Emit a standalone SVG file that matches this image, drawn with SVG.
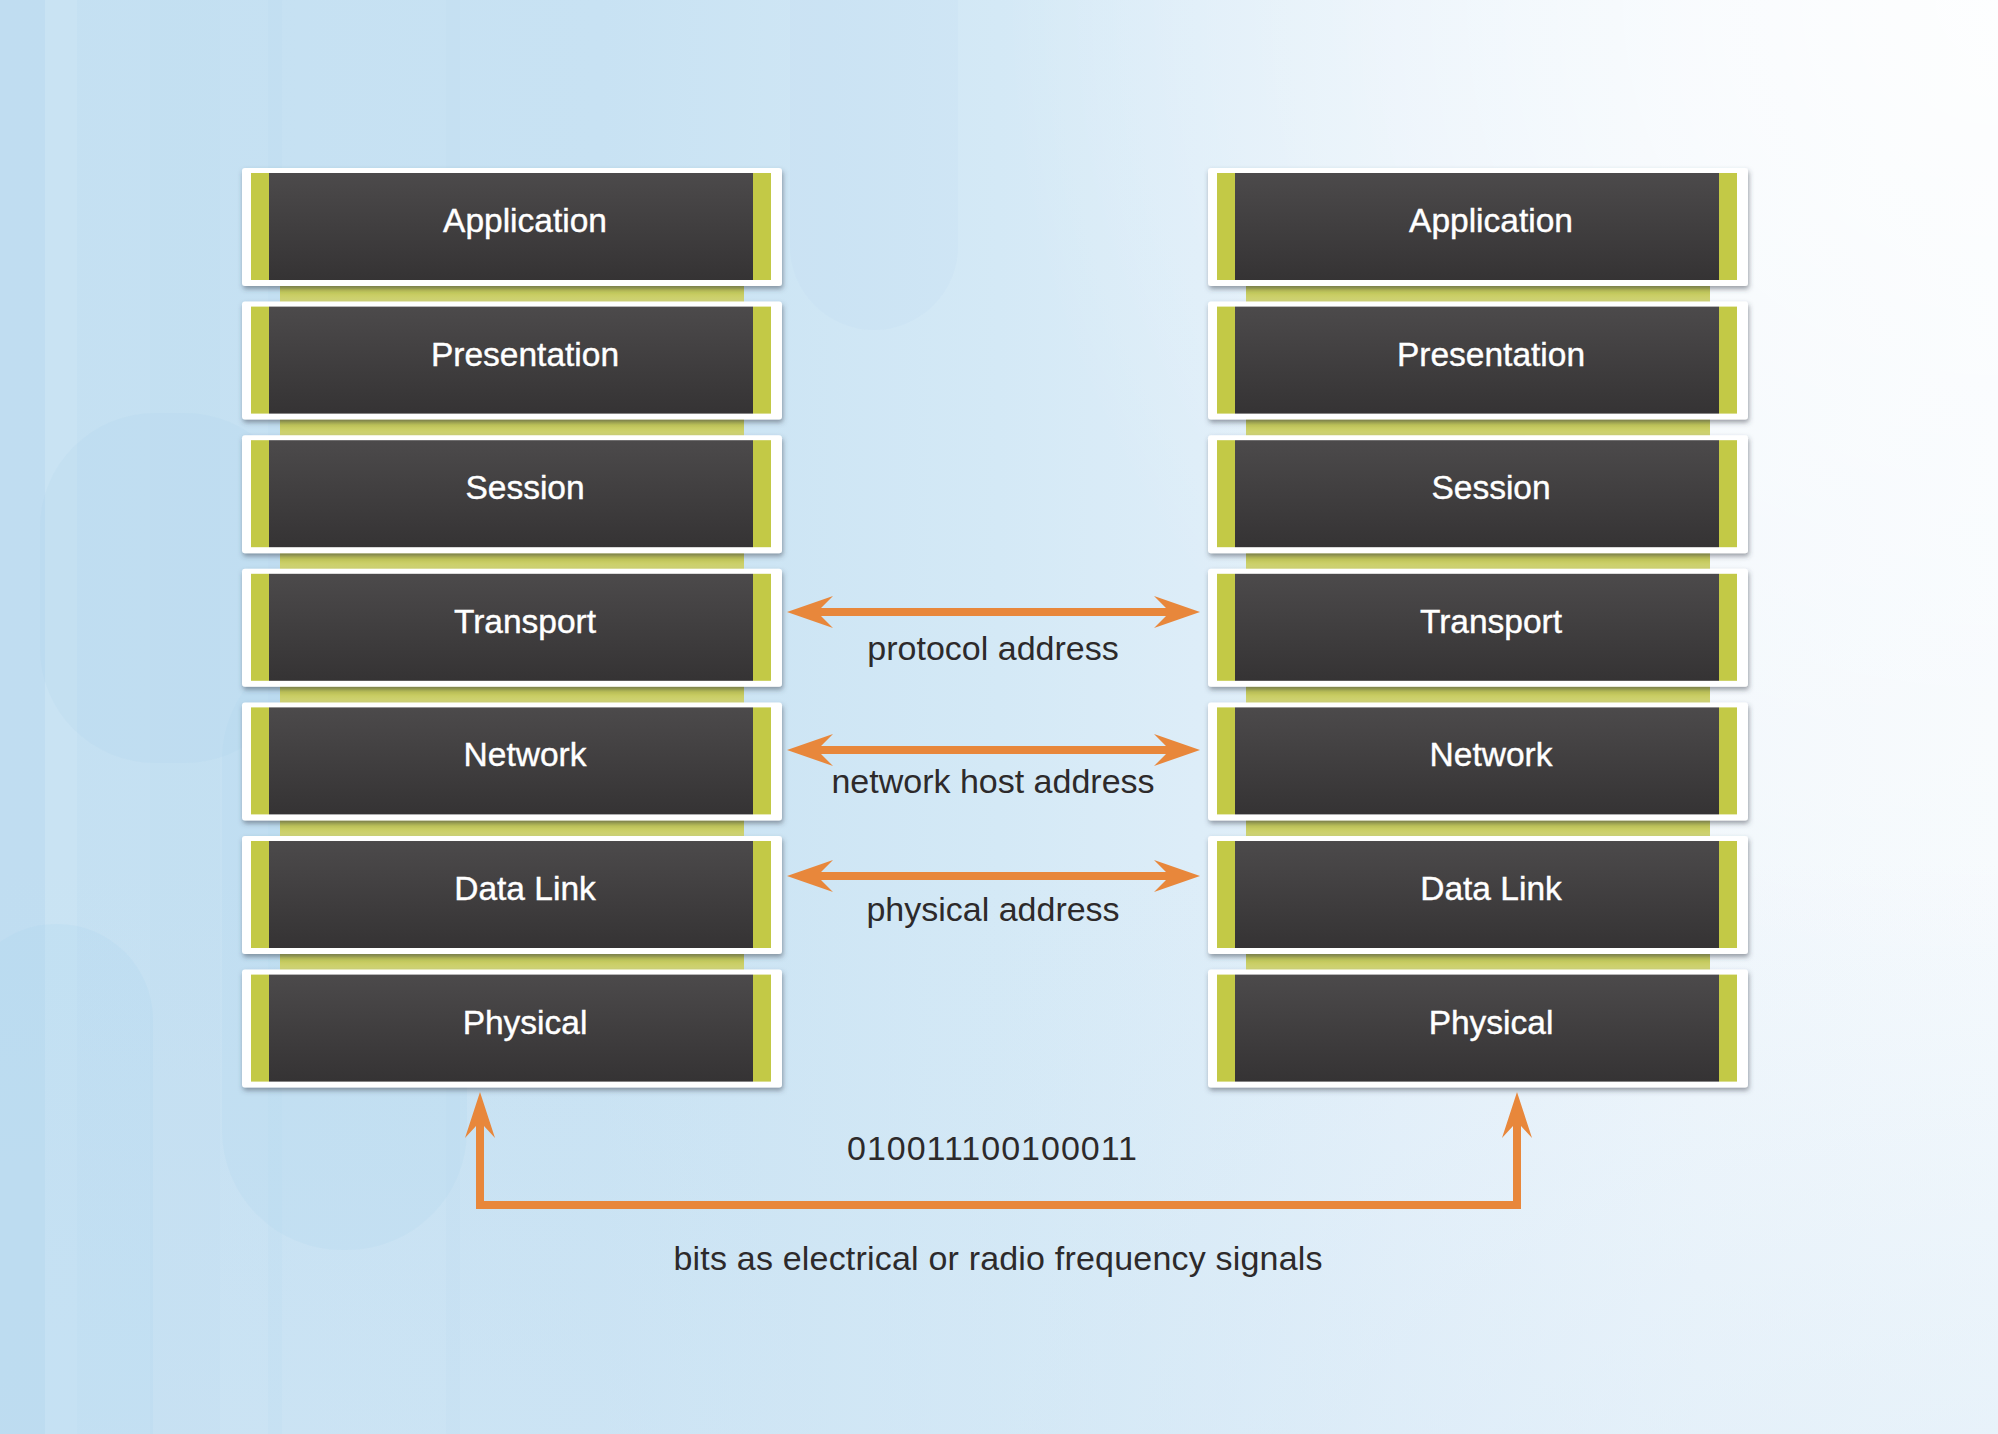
<svg xmlns="http://www.w3.org/2000/svg" width="1998" height="1434" viewBox="0 0 1998 1434">
<defs>
<linearGradient id="bg" x1="0" y1="0" x2="1" y2="0">
<stop offset="0" stop-color="#c4e0f2"/>
<stop offset="0.3" stop-color="#c8e2f3"/>
<stop offset="0.5" stop-color="#d4e9f6"/>
<stop offset="0.7" stop-color="#e6f1fa"/>
<stop offset="0.85" stop-color="#f1f7fc"/>
<stop offset="1" stop-color="#f6fafd"/>
</linearGradient>
<radialGradient id="glow" cx="1998" cy="0" r="1000" gradientUnits="userSpaceOnUse">
<stop offset="0" stop-color="#ffffff" stop-opacity="0.8"/>
<stop offset="1" stop-color="#ffffff" stop-opacity="0"/>
</radialGradient>
<linearGradient id="bottomTint" x1="0" y1="0" x2="0" y2="1">
<stop offset="0.6" stop-color="#d2e6f5" stop-opacity="0"/>
<stop offset="1" stop-color="#d2e6f5" stop-opacity="0.4"/>
</linearGradient>
<linearGradient id="dark" x1="0" y1="0" x2="0" y2="1">
<stop offset="0" stop-color="#4c4a4b"/>
<stop offset="1" stop-color="#353334"/>
</linearGradient>
<linearGradient id="strip" x1="0" y1="0" x2="0" y2="1">
<stop offset="0" stop-color="#8e933a"/>
<stop offset="0.35" stop-color="#c2c754"/>
<stop offset="1" stop-color="#dadd8c"/>
</linearGradient>
<filter id="shadow" x="-5%" y="-10%" width="110%" height="130%">
<feDropShadow dx="1" dy="3" stdDeviation="2.5" flood-color="#3a4250" flood-opacity="0.5"/>
</filter>
<g id="layerbox">
<rect x="0" y="-5" width="540" height="118" rx="3" fill="#ffffff" filter="url(#shadow)"/>
<rect x="9" y="0" width="18" height="107" fill="#c3c946"/>
<rect x="27" y="0" width="484" height="107" fill="url(#dark)"/>
<rect x="511" y="0" width="18" height="107" fill="#c3c946"/>
</g>
</defs>
<style>
.lbl{font-family:"Liberation Sans",Arial,Helvetica,sans-serif;font-size:33.5px;fill:#ffffff;text-anchor:middle;stroke:#ffffff;stroke-width:0.4}
.note{font-family:"Liberation Sans",Arial,Helvetica,sans-serif;font-size:34px;fill:#2d2a2b;text-anchor:middle}
.orange{fill:#e8873b}
.oline{fill:none;stroke:#e8873b;stroke-width:8}
</style>

<g id="background">
<rect width="1998" height="1434" fill="url(#bg)"/>
<rect width="1998" height="1434" fill="url(#bottomTint)"/>
<rect width="1998" height="1434" fill="url(#glow)"/>
<rect x="0" y="0" width="45" height="1434" fill="#b5d6ee" opacity="0.3"/>
<rect x="45" y="0" width="32" height="1434" fill="#d6eaf7" opacity="0.25"/>
<rect x="150" y="0" width="70" height="1434" fill="#bcdcf0" opacity="0.2"/>
<rect x="268" y="0" width="14" height="1434" fill="#bcdcf0" opacity="0.25"/>
<rect x="446" y="0" width="14" height="1434" fill="#bcdcf0" opacity="0.2"/>
<rect x="790" y="-120" width="168" height="450" rx="84" fill="#b6d8ef" opacity="0.14"/>
<rect x="40" y="413" width="260" height="350" rx="115" fill="#a9d1ec" opacity="0.15"/>
<rect x="-40" y="924" width="193" height="620" rx="96" fill="#a9d1ec" opacity="0.18"/>
<rect x="222" y="640" width="245" height="610" rx="120" fill="#a9d1ec" opacity="0.16"/>
</g>

<g id="strips">
<rect x="280" y="280" width="464" height="28" fill="url(#strip)"/>
<rect x="280" y="413.6" width="464" height="28" fill="url(#strip)"/>
<rect x="280" y="547.2" width="464" height="28" fill="url(#strip)"/>
<rect x="280" y="680.8" width="464" height="28" fill="url(#strip)"/>
<rect x="280" y="814.4" width="464" height="28" fill="url(#strip)"/>
<rect x="280" y="948" width="464" height="28" fill="url(#strip)"/>
<rect x="1246" y="280" width="464" height="28" fill="url(#strip)"/>
<rect x="1246" y="413.6" width="464" height="28" fill="url(#strip)"/>
<rect x="1246" y="547.2" width="464" height="28" fill="url(#strip)"/>
<rect x="1246" y="680.8" width="464" height="28" fill="url(#strip)"/>
<rect x="1246" y="814.4" width="464" height="28" fill="url(#strip)"/>
<rect x="1246" y="948" width="464" height="28" fill="url(#strip)"/>
</g>

<g id="left-application"><use href="#layerbox" x="242" y="173"/><text class="lbl" x="525" y="232">Application</text></g>
<g id="left-presentation"><use href="#layerbox" x="242" y="306.6"/><text class="lbl" x="525" y="365.6">Presentation</text></g>
<g id="left-session"><use href="#layerbox" x="242" y="440.2"/><text class="lbl" x="525" y="499.2">Session</text></g>
<g id="left-transport"><use href="#layerbox" x="242" y="573.8"/><text class="lbl" x="525" y="632.8">Transport</text></g>
<g id="left-network"><use href="#layerbox" x="242" y="707.4"/><text class="lbl" x="525" y="766.4">Network</text></g>
<g id="left-datalink"><use href="#layerbox" x="242" y="841"/><text class="lbl" x="525" y="900">Data Link</text></g>
<g id="left-physical"><use href="#layerbox" x="242" y="974.6"/><text class="lbl" x="525" y="1033.6">Physical</text></g>

<g id="right-application"><use href="#layerbox" x="1208" y="173"/><text class="lbl" x="1491" y="232">Application</text></g>
<g id="right-presentation"><use href="#layerbox" x="1208" y="306.6"/><text class="lbl" x="1491" y="365.6">Presentation</text></g>
<g id="right-session"><use href="#layerbox" x="1208" y="440.2"/><text class="lbl" x="1491" y="499.2">Session</text></g>
<g id="right-transport"><use href="#layerbox" x="1208" y="573.8"/><text class="lbl" x="1491" y="632.8">Transport</text></g>
<g id="right-network"><use href="#layerbox" x="1208" y="707.4"/><text class="lbl" x="1491" y="766.4">Network</text></g>
<g id="right-datalink"><use href="#layerbox" x="1208" y="841"/><text class="lbl" x="1491" y="900">Data Link</text></g>
<g id="right-physical"><use href="#layerbox" x="1208" y="974.6"/><text class="lbl" x="1491" y="1033.6">Physical</text></g>

<g id="connectors">
<g id="arrow-transport">
<polygon class="orange" points="787,612 833,596 821,608 1166,608 1154,596 1200,612 1154,628 1166,616 821,616 833,628"/>
</g>
<g id="arrow-network">
<polygon class="orange" points="787,750 833,734 821,746 1166,746 1154,734 1200,750 1154,766 1166,754 821,754 833,766"/>
</g>
<g id="arrow-datalink">
<polygon class="orange" points="787,876 833,860 821,872 1166,872 1154,860 1200,876 1154,892 1166,880 821,880 833,892"/>
</g>
<g id="arrow-physical">
<path class="oline" d="M480,1124 V1205 H1517 V1124"/>
<polygon class="orange" points="480,1092 495,1138 484,1126 476,1126 465,1138"/>
<polygon class="orange" points="1517,1092 1532,1138 1521,1126 1513,1126 1502,1138"/>
</g>
</g>

<g id="labels">
<text class="note" x="993" y="660">protocol address</text>
<text class="note" x="993" y="793">network host address</text>
<text class="note" x="993" y="921">physical address</text>
<text class="note" x="992" y="1160" textLength="290" lengthAdjust="spacing">010011100100011</text>
<text class="note" x="998" y="1270" textLength="649" lengthAdjust="spacing">bits as electrical or radio frequency signals</text>
</g>
</svg>
